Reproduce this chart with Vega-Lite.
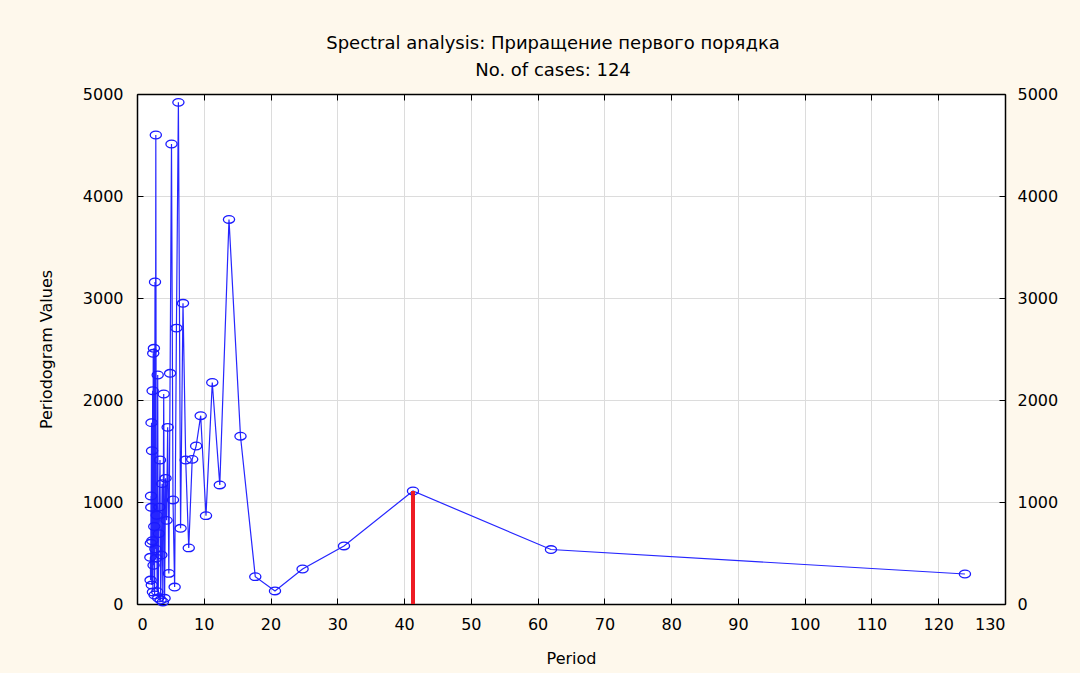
{
  "$schema": "https://vega.github.io/schema/vega-lite/v6.json",
  "autosize": "none",
  "width": 868,
  "height": 510,
  "padding": {"left": 137, "top": 94, "right": 75, "bottom": 69},
  "background": "#FEF8EC",
  "view": {"fill": "white", "stroke": "#000000", "strokeWidth": 1},
  "config": {
    "font": "DejaVu Sans",
    "axis": {"labelFont": "DejaVu Sans", "titleFont": "DejaVu Sans", "labelFontSize": 16, "titleFontSize": 16, "titleFontWeight": "normal", "labelColor": "#000", "titleColor": "#000", "domainColor": "#000", "tickColor": "#000", "gridColor": "#dcdcdc", "gridWidth": 1, "format": "d"}
  },
  "title": {
    "text": ["Spectral analysis: Приращение первого порядка", "No. of cases: 124"],
    "font": "DejaVu Sans",
    "fontSize": 18,
    "fontWeight": "normal",
    "color": "#000",
    "lineHeight": 27,
    "anchor": "middle",
    "dx": -18,
    "offset": 6
  },
  "datasets": {
    "pg": [
      {"k": 1, "period": 124.0, "value": 294},
      {"k": 2, "period": 62.0, "value": 534},
      {"k": 3, "period": 41.333, "value": 1108},
      {"k": 4, "period": 31.0, "value": 569},
      {"k": 5, "period": 24.8, "value": 343},
      {"k": 6, "period": 20.667, "value": 128},
      {"k": 7, "period": 17.714, "value": 268},
      {"k": 8, "period": 15.5, "value": 1645},
      {"k": 9, "period": 13.778, "value": 3770},
      {"k": 10, "period": 12.4, "value": 1167},
      {"k": 11, "period": 11.273, "value": 2172},
      {"k": 12, "period": 10.333, "value": 866},
      {"k": 13, "period": 9.538, "value": 1846},
      {"k": 14, "period": 8.857, "value": 1549},
      {"k": 15, "period": 8.267, "value": 1418},
      {"k": 16, "period": 7.75, "value": 550},
      {"k": 17, "period": 7.294, "value": 1412},
      {"k": 18, "period": 6.889, "value": 2948},
      {"k": 19, "period": 6.526, "value": 742},
      {"k": 20, "period": 6.2, "value": 4918},
      {"k": 21, "period": 5.905, "value": 2705},
      {"k": 22, "period": 5.636, "value": 166},
      {"k": 23, "period": 5.391, "value": 1020},
      {"k": 24, "period": 5.167, "value": 4510},
      {"k": 25, "period": 4.96, "value": 2262},
      {"k": 26, "period": 4.769, "value": 300},
      {"k": 27, "period": 4.593, "value": 1732},
      {"k": 28, "period": 4.429, "value": 820},
      {"k": 29, "period": 4.276, "value": 1232},
      {"k": 30, "period": 4.133, "value": 56},
      {"k": 31, "period": 4.0, "value": 2059},
      {"k": 32, "period": 3.875, "value": 20},
      {"k": 33, "period": 3.758, "value": 1180},
      {"k": 34, "period": 3.647, "value": 480},
      {"k": 35, "period": 3.543, "value": 39},
      {"k": 36, "period": 3.444, "value": 1412},
      {"k": 37, "period": 3.351, "value": 950},
      {"k": 38, "period": 3.263, "value": 690},
      {"k": 39, "period": 3.179, "value": 59},
      {"k": 40, "period": 3.1, "value": 2245},
      {"k": 41, "period": 3.024, "value": 120},
      {"k": 42, "period": 2.952, "value": 870},
      {"k": 43, "period": 2.884, "value": 450},
      {"k": 44, "period": 2.818, "value": 4598},
      {"k": 45, "period": 2.756, "value": 540},
      {"k": 46, "period": 2.696, "value": 3157},
      {"k": 47, "period": 2.638, "value": 88},
      {"k": 48, "period": 2.583, "value": 760},
      {"k": 49, "period": 2.531, "value": 2507},
      {"k": 50, "period": 2.48, "value": 380},
      {"k": 51, "period": 2.431, "value": 2458},
      {"k": 52, "period": 2.385, "value": 118},
      {"k": 53, "period": 2.34, "value": 2091},
      {"k": 54, "period": 2.296, "value": 620},
      {"k": 55, "period": 2.255, "value": 1503},
      {"k": 56, "period": 2.214, "value": 186},
      {"k": 57, "period": 2.175, "value": 1778},
      {"k": 58, "period": 2.138, "value": 948},
      {"k": 59, "period": 2.102, "value": 1059},
      {"k": 60, "period": 2.067, "value": 595},
      {"k": 61, "period": 2.033, "value": 235},
      {"k": 62, "period": 2.0, "value": 458}
    ],
    "peak": [{"period": 41.333, "value": 1108, "base": 0}]
  },
  "layer": [
    {
      "data": {"name": "pg"},
      "mark": {"type": "line", "color": "#2626ff", "strokeWidth": 1.2, "clip": true},
      "encoding": {
        "x": {"field": "period", "type": "quantitative", "scale": {"domain": [0, 130], "nice": false, "zero": false},
              "axis": {"orient": "bottom", "values": [0,10,20,30,40,50,60,70,80,90,100,110,120,130], "title": "Period", "titlePadding": 18, "grid": true, "tickSize": -6, "labelPadding": 18, "domainWidth": 1.5}},
        "y": {"field": "value", "type": "quantitative", "scale": {"domain": [0, 5000], "nice": false},
              "axis": {"orient": "left", "values": [0,1000,2000,3000,4000,5000], "title": "Periodogram Values", "titlePadding": 28, "grid": true, "tickSize": -6, "labelPadding": 20, "domainWidth": 1.5}}
      }
    },
    {
      "data": {"name": "pg"},
      "mark": {"type": "point", "shape": "M -1.25 0 A 1.25 0.85 0 1 0 1.25 0 A 1.25 0.85 0 1 0 -1.25 0 Z", "filled": false, "color": "#1a1aff", "strokeWidth": 1.3, "size": 80, "opacity": 1},
      "encoding": {
        "x": {"field": "period", "type": "quantitative", "scale": {"domain": [0, 130], "nice": false, "zero": false}, "axis": null},
        "y": {"field": "value", "type": "quantitative", "scale": {"domain": [0, 5000], "nice": false}, "axis": null}
      }
    },
    {
      "data": {"name": "peak"},
      "mark": {"type": "rule", "color": "#ee1c24", "strokeWidth": 4},
      "encoding": {
        "x": {"field": "period", "type": "quantitative", "scale": {"domain": [0, 130], "nice": false, "zero": false}, "axis": null},
        "y": {"field": "value", "type": "quantitative", "scale": {"domain": [0, 5000], "nice": false}, "axis": null},
        "y2": {"field": "base"}
      }
    },
    {
      "data": {"name": "peak"},
      "mark": {"type": "point", "opacity": 0},
      "encoding": {
        "x": {"field": "period", "type": "quantitative", "scale": {"domain": [0, 130], "nice": false, "zero": false},
              "axis": {"orient": "top", "values": [0,10,20,30,40,50,60,70,80,90,100,110,120,130], "labels": false, "title": null, "grid": false, "tickSize": -6, "domainWidth": 1.5}},
        "y": {"field": "value", "type": "quantitative", "scale": {"domain": [0, 5000], "nice": false},
              "axis": {"orient": "right", "values": [0,1000,2000,3000,4000,5000], "title": null, "grid": false, "tickSize": -6, "labelPadding": 18, "domainWidth": 1.5}}
      }
    }
  ],
  "resolve": {"scale": {"x": "independent", "y": "independent"}, "axis": {"x": "independent", "y": "independent"}}
}
